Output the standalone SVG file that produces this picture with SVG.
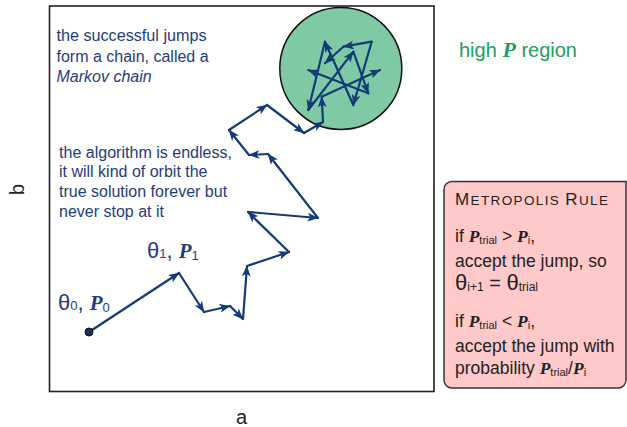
<svg xmlns="http://www.w3.org/2000/svg" width="627" height="427" viewBox="0 0 627 427">
<style>
.t{font-family:"Liberation Sans",Arial,sans-serif;fill:#1f3c7d;font-size:16px}
.r{font-family:"Liberation Sans",Arial,sans-serif;fill:#222;font-size:17.5px}
.P{font-family:"Liberation Serif","DejaVu Serif",serif;font-style:italic;font-weight:bold}
.ax{font-family:"Liberation Sans",Arial,sans-serif;fill:#222;font-size:20px}
.seg{fill:none;stroke:#153a78;stroke-width:2.2;stroke-linecap:round;stroke-linejoin:round;marker-end:url(#ah)}
</style>
<defs>
<marker id="ah" viewBox="0 0 10 8" refX="9.5" refY="4" markerWidth="11" markerHeight="8.8" orient="auto" markerUnits="userSpaceOnUse">
<path d="M0,0 L10,4 L0,8 L2.5,4 z" fill="#153a78"/>
</marker>
</defs>
<rect width="627" height="427" fill="#fff"/>
<g id="frame">
<rect x="49.5" y="6" width="384.5" height="385.5" fill="none" stroke="#222" stroke-width="1.6"/>
</g>
<g id="high-region">
<circle cx="340.8" cy="68.5" r="61" fill="#7fc9a5" stroke="#111" stroke-width="1.5"/>
</g>
<g id="connectors">
<path class="seg" d="M89,332 L179,273"/>
<path class="seg" d="M179,273 L204,312"/>
<path class="seg" d="M204,312 L230,306"/>
<path class="seg" d="M230,306 L243,319"/>
<path class="seg" d="M243,319 L247,266"/>
<path class="seg" d="M247,266 L289,252"/>
<path class="seg" d="M289,252 L248,212"/>
<path class="seg" d="M248,212 L318,218"/>
<path class="seg" d="M318,218 L268,154"/>
<path class="seg" d="M268,154 L249,155"/>
<path class="seg" d="M249,155 L229,130"/>
<path class="seg" d="M229,130 L267,105"/>
<path class="seg" d="M267,105 L304,133"/>
<path class="seg" d="M304,133 L323,122"/>
<path class="seg" d="M323,122 L321.7,96.7"/>
<path class="seg" d="M321.7,96.7 L380,70"/>
<path class="seg" d="M368.3,93.3 L308.3,70"/>
<path class="seg" d="M353.3,51.7 L368.3,93.3"/>
<path class="seg" d="M308.3,110 L353.3,51.7"/>
<path class="seg" d="M325,41.7 L308.3,110"/>
<path class="seg" d="M353.3,105 L325,41.7"/>
<path class="seg" d="M371.7,41.7 L353.3,105"/>
<path class="seg" d="M371.7,41.7 L343.3,46.7"/>
<path class="seg" d="M343.3,46.7 L325,63.3"/>
</g>
<g id="start-dot">
<circle cx="89" cy="332" r="4" fill="#1a3060" stroke="#111" stroke-width="1"/>
</g>
<g id="note-chain">
<text class="t" x="56.5" y="40.5" textLength="150" lengthAdjust="spacingAndGlyphs">the successful jumps</text>
<text class="t" x="56.5" y="61.5">form a chain, called a</text>
<text class="t" x="56.5" y="82" font-style="italic">Markov chain</text>
</g>
<g id="note-endless">
<text class="t" x="59" y="157.5" textLength="173" lengthAdjust="spacingAndGlyphs">the algorithm is endless,</text>
<text class="t" x="59" y="177">it will kind of orbit the</text>
<text class="t" x="59" y="197">true solution forever but</text>
<text class="t" x="59" y="217">never stop at it</text>
</g>
<g id="label-theta0">
<text class="t" x="58" y="310"><tspan font-size="22">θ</tspan><tspan font-size="13">0</tspan><tspan font-size="22">, </tspan><tspan class="P" font-size="21">P</tspan><tspan font-size="13" dy="2">0</tspan></text>
</g>
<g id="label-theta1">
<text class="t" x="147" y="258"><tspan font-size="22">θ</tspan><tspan font-size="13">1</tspan><tspan font-size="22">, </tspan><tspan class="P" font-size="21">P</tspan><tspan font-size="13" dy="2">1</tspan></text>
</g>
<g id="label-high">
<text x="459" y="56.5" font-family="Liberation Sans,Arial,sans-serif" font-size="20" fill="#1f9e5c">high <tspan class="P" font-size="22">P</tspan> region</text>
</g>
<g id="metropolis-rule">
<path d="M452,181.5 H626 V380 a8,8 0 0 1 -8,8 H452 a8,8 0 0 1 -8,-8 V189.5 a8,8 0 0 1 8,-8 z" fill="#ffc9c9" stroke="#333" stroke-width="1.5"/>
<text class="r" x="455" y="205" textLength="153" lengthAdjust="spacing"><tspan font-size="17">M</tspan><tspan font-size="13.5">ETROPOLIS </tspan><tspan font-size="17">R</tspan><tspan font-size="13.5">ULE</tspan></text>
<text class="r" x="455" y="241.5">if <tspan class="P">P</tspan><tspan font-size="11" dy="2">trial</tspan><tspan dy="-2"> &gt; </tspan><tspan class="P">P</tspan><tspan font-size="11" dy="2">i</tspan><tspan dy="-2">,</tspan></text>
<text class="r" x="455" y="266.5">accept the jump, so</text>
<text class="r" x="455" y="290"><tspan font-size="22">θ</tspan><tspan font-size="12" dy="1">i+1</tspan><tspan font-size="20" dy="-1"> = </tspan><tspan font-size="22">θ</tspan><tspan font-size="12" dy="1">trial</tspan></text>
<text class="r" x="455" y="326.5">if <tspan class="P">P</tspan><tspan font-size="11" dy="2">trial</tspan><tspan dy="-2"> &lt; </tspan><tspan class="P">P</tspan><tspan font-size="11" dy="2">i</tspan><tspan dy="-2">,</tspan></text>
<text class="r" x="455" y="351.5">accept the jump with</text>
<text class="r" x="455" y="373.5">probability <tspan class="P">P</tspan><tspan font-size="11" dy="2">trial</tspan><tspan dy="-2">/</tspan><tspan class="P">P</tspan><tspan font-size="11" dy="2">i</tspan></text>
</g>
<g id="axis-labels">
<text class="ax" x="236" y="424">a</text>
<text class="ax" transform="translate(24,195) rotate(-90)">b</text>
</g>
</svg>
